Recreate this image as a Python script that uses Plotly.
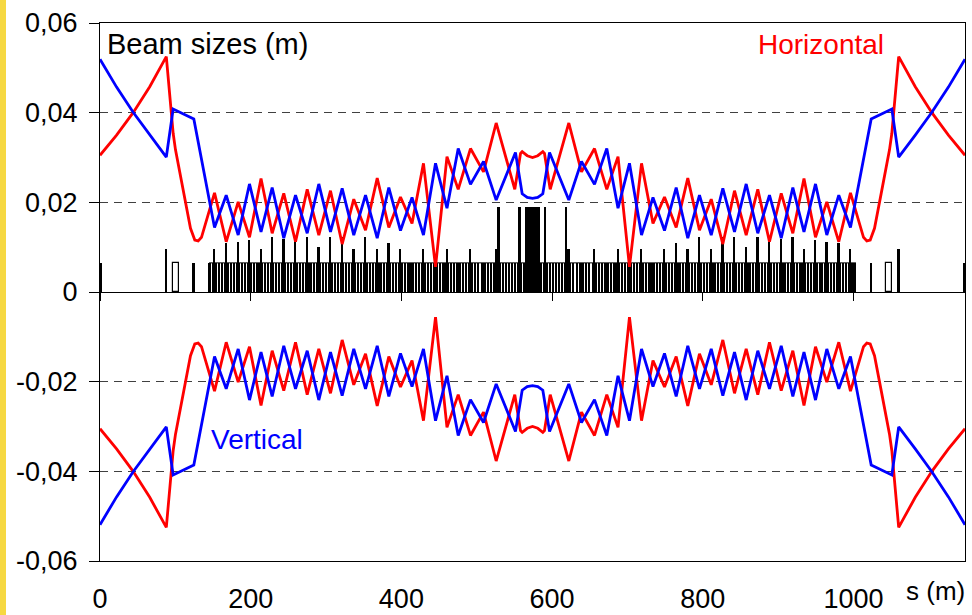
import plotly.graph_objects as go

S_END = 1148

# ---- beam envelope (upper half, m) ----
s_red = [0, 22, 44, 66, 88, 97.1, 100.2, 111.2, 120.1, 125.8, 130.3, 134.7,
         152.0, 167.5, 183.4, 198.4, 213.7, 228.5, 243.9, 259.5, 275.0, 290.4,
         305.9, 321.4, 336.8, 352.4, 367.9, 383.3, 398.8, 414.1, 429.3, 445.3,
         460.5, 475.4, 491.7, 509.0, 525.8, 550.5, 558.1, 560.3, 567.0, 574.0,
         581.0, 587.7, 589.9, 597.5, 622.2, 639.0, 656.3, 672.6, 687.5, 702.7,
         718.7, 733.9, 749.2, 764.7, 780.1, 795.6, 811.2, 826.6, 842.1, 857.6,
         873.0, 888.5, 904.1, 919.5, 934.3, 949.6, 964.6, 980.5, 996.0, 1013.3,
         1017.7, 1022.2, 1027.9, 1036.8, 1047.8, 1050.9, 1060, 1082, 1104, 1126, 1148]
red_size = [0.0305, 0.0350, 0.0400, 0.0458, 0.0525, 0.0354, 0.0317, 0.0220, 0.0142, 0.0116, 0.0114, 0.0122,
            0.0221, 0.0112, 0.0201, 0.0122, 0.0253, 0.0131, 0.0220, 0.0112, 0.0229, 0.0127,
            0.0226, 0.0107, 0.0207, 0.0138, 0.0254, 0.0144, 0.0212, 0.0153, 0.0287, 0.0056,
            0.0302, 0.0229, 0.0320, 0.0268, 0.0377, 0.0229, 0.0309, 0.0313, 0.0304, 0.0300,
            0.0304, 0.0313, 0.0309, 0.0229, 0.0377, 0.0268, 0.0320, 0.0229, 0.0302, 0.0056,
            0.0287, 0.0153, 0.0212, 0.0144, 0.0254, 0.0138, 0.0207, 0.0107, 0.0226, 0.0127,
            0.0229, 0.0112, 0.0220, 0.0131, 0.0253, 0.0122, 0.0201, 0.0112, 0.0221, 0.0122,
            0.0114, 0.0116, 0.0142, 0.0220, 0.0317, 0.0354, 0.0525, 0.0458, 0.0400, 0.0350, 0.0305]

s_blue = [0, 22, 44, 66, 88, 97.1, 124.5, 152.0, 167.5, 183.4, 198.4, 213.7, 228.5,
          243.9, 259.5, 275.0, 290.4, 305.9, 321.4, 336.8, 352.4, 367.9, 383.3, 398.8,
          414.1, 429.3, 445.3, 460.5, 475.4, 491.7, 509.0, 525.8, 551.4, 560.3, 567.0,
          574.0, 581.0, 587.7, 596.6, 622.2, 639.0, 656.3, 672.6, 687.5, 702.7, 718.7,
          733.9, 749.2, 764.7, 780.1, 795.6, 811.2, 826.6, 842.1, 857.6, 873.0, 888.5,
          904.1, 919.5, 934.3, 949.6, 964.6, 980.5, 996.0, 1023.5, 1050.9, 1060, 1082,
          1104, 1126, 1148]
blue_size = [0.0519, 0.0457, 0.0401, 0.0350, 0.0301, 0.0408, 0.0386, 0.0144, 0.0216, 0.0127, 0.0241, 0.0134, 0.0233,
             0.0120, 0.0216, 0.0131, 0.0241, 0.0134, 0.0231, 0.0127, 0.0216, 0.0120, 0.0233, 0.0137,
             0.0211, 0.0127, 0.0287, 0.0187, 0.0320, 0.0240, 0.0291, 0.0205, 0.0311, 0.0219, 0.0211,
             0.0209, 0.0211, 0.0219, 0.0311, 0.0205, 0.0291, 0.0240, 0.0320, 0.0187, 0.0287, 0.0127,
             0.0211, 0.0137, 0.0233, 0.0120, 0.0216, 0.0127, 0.0231, 0.0134, 0.0241, 0.0131, 0.0216,
             0.0120, 0.0233, 0.0134, 0.0241, 0.0127, 0.0216, 0.0144, 0.0386, 0.0408, 0.0301, 0.0350,
             0.0401, 0.0457, 0.0519]

# ---- lattice (magnet layout) ----
quad_s = [152.0, 167.5, 183.4, 198.4, 213.7, 228.5, 243.9, 259.5, 275.0, 290.4, 305.9, 321.4,
          336.8, 352.4, 367.9, 383.3, 398.8, 414.1, 429.3, 445.3, 460.5, 475.4, 491.7, 509.0, 525.8,
          622.2, 639.0, 656.3, 672.6, 687.5, 702.7, 718.7, 733.9, 749.2, 764.7, 780.1, 795.6,
          811.2, 826.6, 842.1, 857.6, 873.0, 888.5, 904.1, 919.5, 934.3, 949.6, 964.6, 980.5, 996.0]
quad_h = [0.0096, 0.0110, 0.0112, 0.0116, 0.0096, 0.0122, 0.0118, 0.0122, 0.0122, 0.0100, 0.0122, 0.0122,
          0.0096, 0.0122, 0.0096, 0.0110, 0.0096, 0.0065, 0.0095, 0.0065, 0.0095, 0.0065, 0.0095, 0.0065, 0.0095,
          0.0095, 0.0065, 0.0095, 0.0065, 0.0095, 0.0065, 0.0095, 0.0065, 0.0096, 0.0110, 0.0096, 0.0122,
          0.0096, 0.0122, 0.0122, 0.0100, 0.0122, 0.0122, 0.0118, 0.0122, 0.0096, 0.0116, 0.0112, 0.0110, 0.0096]
center_s = [529.0, 557.0, 591.0, 619.0]
center_h = [0.019, 0.019, 0.019, 0.019]
block_start, block_end, block_h = 564.5, 583.5, 0.019
misc_s = [0.8, 88.0, 124.5, 1023.5, 1060.0, 1147.2]
misc_h = [0.0065, 0.0096, 0.0065, 0.0065, 0.0096, 0.0065]
box_start = [96.6, 1043.4]
box_end = [104.6, 1051.4]
band_start, band_end, dipole_h = 144.7, 1003.3, 0.0065

# ---- axes ----
y_ticks = [-0.06, -0.04, -0.02, 0, 0.02, 0.04, 0.06]
y_ticktext = ["-0,06", "-0,04", "-0,02", "0", "0,02", "0,04", "0,06"]
x_ticks = [0, 200, 400, 600, 800, 1000]
x_ticktext = ["0", "200", "400", "600", "800", "1000"]

# thin dipole slices fill the band between the other elements
breaks = sorted(set([band_start, band_end] + quad_s + center_s + [block_start, block_end]))
dip_c = [band_start + 0.5, band_end - 0.5]
for a, b in zip(breaks[:-1], breaks[1:]):
    if a >= block_start and b <= block_end:
        continue
    n = max(1, round((b - a) / 3.9))
    seg = (b - a) / n
    for k in range(n):
        dip_c.append(a + (k + 0.5) * seg)

fig = go.Figure()
fig.add_trace(go.Bar(x=dip_c, y=[dipole_h] * len(dip_c), width=1.7,
                     marker=dict(color="black", line=dict(width=0)), hoverinfo="skip"))
fig.add_trace(go.Scatter(x=[band_start, band_end], y=[dipole_h, dipole_h], mode="lines",
                         line=dict(color="black", width=1), hoverinfo="skip"))
fig.add_trace(go.Bar(x=[(a + b) / 2 for a, b in zip(box_start, box_end)],
                     y=[dipole_h] * len(box_start),
                     width=[b - a for a, b in zip(box_start, box_end)],
                     marker=dict(color="white", line=dict(color="black", width=1.2)),
                     hoverinfo="skip"))
fig.add_trace(go.Bar(x=quad_s + misc_s + center_s, y=quad_h + misc_h + center_h,
                     width=2.4, marker=dict(color="black", line=dict(width=0)),
                     hoverinfo="skip"))
fig.add_trace(go.Bar(x=[(block_start + block_end) / 2], y=[block_h],
                     width=block_end - block_start,
                     marker=dict(color="black", line=dict(width=0)), hoverinfo="skip"))

RED, BLUE = "#FF0000", "#0000FF"
fig.add_trace(go.Scatter(x=s_red, y=red_size, mode="lines", line=dict(color=RED, width=2.8)))
fig.add_trace(go.Scatter(x=s_red, y=[-v for v in red_size], mode="lines", line=dict(color=RED, width=2.8)))
fig.add_trace(go.Scatter(x=s_blue, y=blue_size, mode="lines", line=dict(color=BLUE, width=2.8)))
fig.add_trace(go.Scatter(x=s_blue, y=[-v for v in blue_size], mode="lines", line=dict(color=BLUE, width=2.8)))
# helper trace to carry the tick marks on the zero line
fig.add_trace(go.Scatter(x=[0, S_END], y=[None, None], xaxis="x2", yaxis="y",
                         mode="lines", hoverinfo="skip"))

FONT = "Liberation Sans, Arial, sans-serif"
fig.update_layout(
    width=972, height=615,
    margin=dict(l=100, r=7, t=23, b=54, pad=0),
    paper_bgcolor="white", plot_bgcolor="white",
    showlegend=False, barmode="overlay", bargap=0,
    font=dict(family=FONT, size=27, color="black"),
    xaxis=dict(range=[0, S_END], tickvals=x_ticks, ticktext=x_ticktext, ticks="",
               showline=True, linecolor="black", linewidth=1, mirror=True,
               showgrid=False, zeroline=False, automargin=False,
               ticklabelstandoff=14),
    xaxis2=dict(range=[0, S_END], overlaying="x", anchor="free", position=0.5, side="bottom",
                tickvals=x_ticks, ticks="outside", ticklen=8, tickcolor="black", tickwidth=1,
                showticklabels=False, showline=False, showgrid=False, zeroline=False),
    yaxis=dict(range=[-0.06, 0.06], tickvals=y_ticks, ticktext=y_ticktext,
               ticks="outside", ticklen=10, tickcolor="black", tickwidth=1,
               showline=True, linecolor="black", linewidth=1, mirror=True,
               showgrid=True, gridcolor="#404040", gridwidth=1, griddash="8px,6px",
               zeroline=True, zerolinecolor="black", zerolinewidth=1,
               automargin=False, ticklabelstandoff=6),
    shapes=[dict(type="rect", xref="paper", yref="paper", x0=-100 / 865, x1=-94 / 865,
                 y0=-0.2, y1=1.2, fillcolor="#F6D842", line=dict(width=0), layer="below")],
    annotations=[
        dict(text="Beam sizes (m)", x=7, y=0.0553, xref="x", yref="y", xanchor="left",
             yanchor="middle", showarrow=False, font=dict(size=29, color="black")),
        dict(text="Horizontal", x=957.5, y=0.0553, xref="x", yref="y", xanchor="center",
             yanchor="middle", showarrow=False, font=dict(size=28, color=RED)),
        dict(text="Vertical", x=207.7, y=-0.0330, xref="x", yref="y", xanchor="center",
             yanchor="middle", showarrow=False, font=dict(size=28, color=BLUE)),
        dict(text="s (m)", x=(935 - 100) / 865, y=(561 - 591) / 538, xref="paper", yref="paper",
             xanchor="center", yanchor="middle", showarrow=False, font=dict(size=26, color="black")),
    ],
)

fig.write_html("out.html", config={"displayModeBar": False},
               post_script="document.body.style.margin='0px';document.body.style.overflow='hidden';")
